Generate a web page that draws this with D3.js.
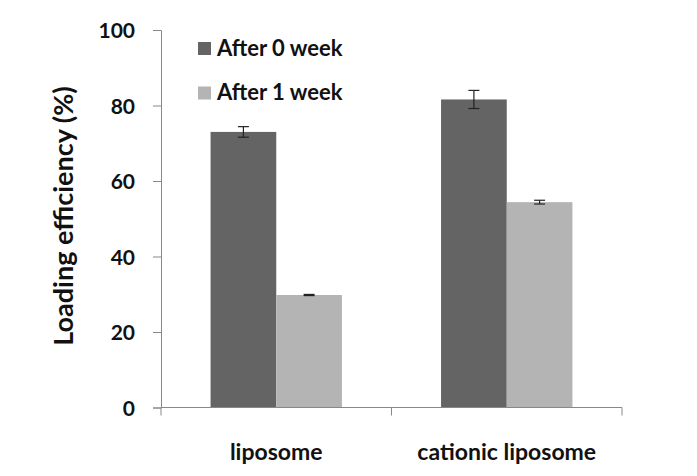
<!DOCTYPE html>
<html><head><meta charset="utf-8">
<script src="https://cdn.jsdelivr.net/npm/d3@7"></script>
<style>body{margin:0;background:#fff}svg{display:block}text{font-family:Lato,"Open Sans",sans-serif;font-weight:bold;fill:#111}</style>
</head><body><svg id="c" width="697" height="476"></svg>
<script>
const categories = ["liposome", "cationic liposome"];
const seriesNames = ["After 0 week", "After 1 week"];
const week0 = [73.0, 81.6];
const week0Err = [1.4, 2.4];
const week1 = [29.8, 54.4];
const week1Err = [0.15, 0.5];
const yTicks = [0, 20, 40, 60, 80, 100];
const colors = ["#646464", "#b4b4b4"];

const svg = d3.select("#c");
const L = 161, R = 622, T = 30, B = 407.5;
const x = d3.scaleBand().domain(categories).range([L, R]).paddingInner(0.43).paddingOuter(0.215);
const x1 = d3.scaleBand().domain(seriesNames).range([0, x.bandwidth()]);
const y = d3.scaleLinear().domain([0, 100]).range([B, T]);

const data = categories.map((c, i) => ({c, vals: [
  {s: seriesNames[0], v: week0[i], e: week0Err[i], k: 0},
  {s: seriesNames[1], v: week1[i], e: week1Err[i], k: 1}]}));

// axes
const yAxis = svg.append("g").attr("transform", `translate(${L},0)`)
  .call(d3.axisLeft(y).tickValues(yTicks).tickSize(8).tickPadding(18));
yAxis.select(".domain").attr("stroke", "#888");
yAxis.selectAll(".tick line").attr("stroke", "#888");
yAxis.selectAll(".tick text").attr("font-size", 21).style("font-family", "Lato").style("font-weight", "bold").attr("fill", "#111").attr("dy", "0.36em");

const g = svg.append("g");
const grp = g.selectAll("g.cat").data(data).join("g").attr("transform", d => `translate(${x(d.c)},0)`);
grp.selectAll("rect").data(d => d.vals).join("rect")
  .attr("x", d => x1(d.s)).attr("width", x1.bandwidth())
  .attr("y", d => y(d.v)).attr("height", d => y(0) - y(d.v))
  .attr("fill", d => colors[d.k]);
const eb = grp.selectAll("g.eb").data(d => d.vals).join("g").attr("stroke", "#222").attr("stroke-width", 1.2);
eb.append("line").attr("x1", d => x1(d.s) + x1.bandwidth()/2).attr("x2", d => x1(d.s) + x1.bandwidth()/2)
  .attr("y1", d => y(d.v + d.e)).attr("y2", d => y(d.v - d.e));
[1, -1].forEach(sg => eb.append("line")
  .attr("x1", d => x1(d.s) + x1.bandwidth()/2 - 5.5).attr("x2", d => x1(d.s) + x1.bandwidth()/2 + 5.5)
  .attr("y1", d => y(d.v + sg*d.e)).attr("y2", d => y(d.v + sg*d.e)));

const xAxis = svg.append("g").attr("transform", `translate(0,${B})`)
  .call(d3.axisBottom(x).tickSize(0).tickPadding(0));
xAxis.select(".domain").remove();
xAxis.append("line").attr("x1", L).attr("x2", R).attr("stroke", "#888");
xAxis.selectAll(".tick text").attr("font-size", 23).style("font-family", "Lato").style("font-weight", "bold").attr("fill", "#111").attr("y", 52).attr("dy", 0);
[L, (L+R)/2, R].forEach(px => xAxis.append("line").attr("x1", px).attr("x2", px).attr("y1", 0).attr("y2", 8).attr("stroke", "#888"));

// y title
svg.append("text").attr("transform", `translate(73,216) rotate(-90)`)
  .attr("text-anchor", "middle").attr("font-size", 27).text("Loading efficiency (%)");

// legend
const lg = svg.append("g").selectAll("g").data(seriesNames).join("g")
  .attr("transform", (d, i) => `translate(198,${42 + i*44.5})`);
lg.append("rect").attr("width", 13).attr("height", 13).attr("fill", (d, i) => colors[i]);
lg.append("text").attr("x", 19).attr("y", 13.5).attr("font-size", 22).text(d => d);
</script></body></html>
